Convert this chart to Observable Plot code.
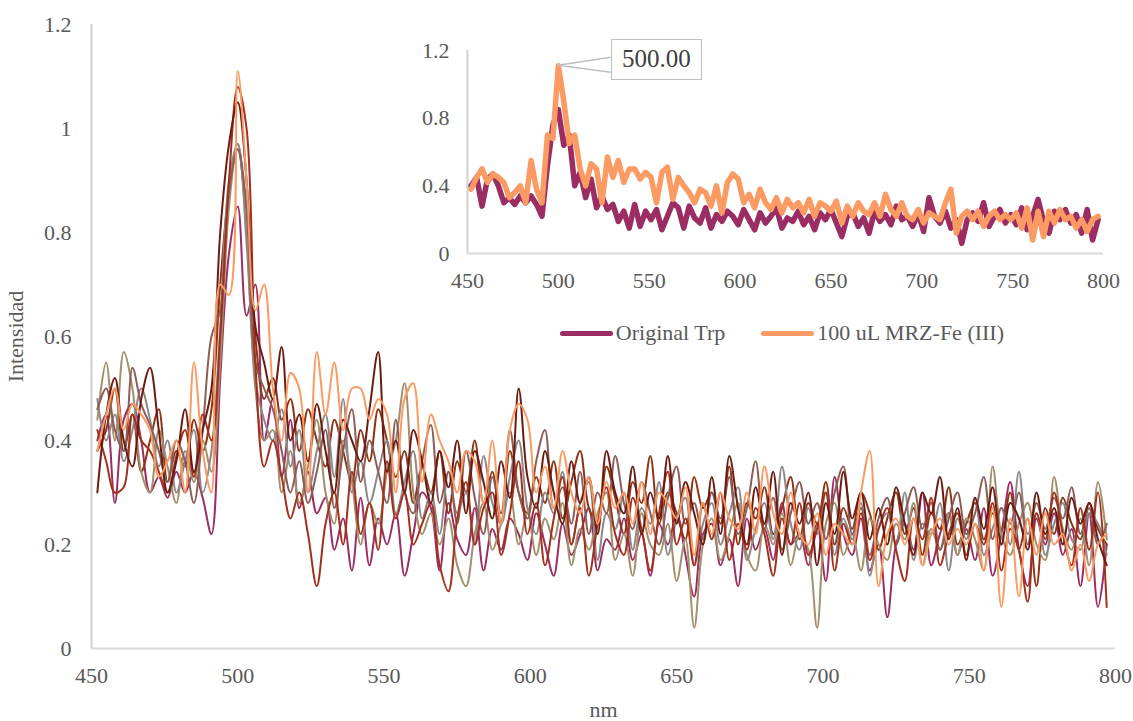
<!DOCTYPE html>
<html>
<head>
<meta charset="utf-8">
<script src="https://cdn.jsdelivr.net/npm/d3@7"></script>
<script src="https://cdn.jsdelivr.net/npm/@observablehq/plot@0.6"></script>
<style>
  html, body { margin: 0; padding: 0; background: #fff; }
  #wrap { position: relative; width: 1133px; height: 721px; overflow: hidden; font-family: "Liberation Serif", serif; color: #595959; }
  #wrap svg { position: absolute; left: 0; top: 0; background: transparent; }
  .leg { position: absolute; display: flex; align-items: center; font-size: 22px; color: #595959; white-space: nowrap; }
  .sw { display: inline-block; width: 53px; height: 5px; border-radius: 3px; margin-right: 3px; }
  #callout { position: absolute; border: 1.5px solid #bfbfbf; background: #fff; font-size: 25px; color: #404040; text-align: center; box-sizing: border-box; }
</style>
</head>
<body>
<div id="wrap"></div>
<script>
// wavelengths (nm)
const wavelengths = [
452,455,458,461,464,467,470,473,476,479,
482,485,488,491,494,497,500,503,506,509,
512,515,518,521,524,527,530,533,536,539,
542,545,548,551,554,557,560,563,566,569,
572,575,578,581,584,587,590,593,596,599,
602,605,608,611,614,617,620,623,626,629,
632,635,638,641,644,647,650,653,656,659,
662,665,668,671,674,677,680,683,686,689,
692,695,698,701,704,707,710,713,716,719,
722,725,728,731,734,737,740,743,746,749,
752,755,758,761,764,767,770,773,776,779,
782,785,788,791,794,797];

// Original Trp
const originalTrp = [
0.40,0.45,0.28,0.44,0.47,0.40,0.30,0.33,0.29,0.34,
0.30,0.34,0.29,0.22,0.52,0.76,0.85,0.64,0.70,0.40,
0.48,0.33,0.44,0.27,0.34,0.26,0.29,0.19,0.25,0.15,
0.29,0.16,0.25,0.20,0.26,0.14,0.22,0.30,0.27,0.15,
0.28,0.21,0.18,0.27,0.15,0.23,0.19,0.25,0.22,0.17,
0.26,0.20,0.14,0.24,0.18,0.22,0.27,0.15,0.21,0.19,
0.25,0.17,0.22,0.14,0.24,0.20,0.26,0.18,0.10,0.22,
0.24,0.16,0.21,0.12,0.25,0.19,0.23,0.17,0.28,0.20,
0.22,0.16,0.24,0.13,0.33,0.22,0.18,0.25,0.15,0.20,
0.06,0.20,0.24,0.19,0.30,0.16,0.22,0.26,0.18,0.23,
0.17,0.27,0.14,0.22,0.32,0.19,0.12,0.25,0.20,0.26,
0.18,0.23,0.12,0.26,0.08,0.20];

// 100 uL MRZ-Fe (III)
const mrz100 = [
0.38,0.45,0.50,0.42,0.47,0.45,0.42,0.33,0.36,0.40,
0.30,0.55,0.38,0.30,0.70,0.68,1.11,0.90,0.65,0.70,
0.50,0.40,0.53,0.50,0.30,0.57,0.45,0.55,0.42,0.50,
0.50,0.44,0.48,0.45,0.30,0.48,0.51,0.32,0.45,0.40,
0.36,0.30,0.38,0.36,0.28,0.40,0.24,0.42,0.47,0.44,
0.30,0.35,0.27,0.38,0.30,0.26,0.33,0.24,0.32,0.27,
0.30,0.24,0.32,0.22,0.30,0.28,0.25,0.31,0.18,0.28,
0.22,0.30,0.25,0.23,0.30,0.22,0.35,0.26,0.22,0.30,
0.22,0.20,0.26,0.18,0.24,0.22,0.20,0.30,0.38,0.12,
0.22,0.25,0.20,0.25,0.16,0.22,0.25,0.20,0.23,0.20,
0.24,0.15,0.27,0.08,0.25,0.10,0.25,0.18,0.26,0.20,
0.22,0.15,0.20,0.13,0.20,0.22];

const seriesDarkMaroon = [
0.30,0.45,0.52,0.40,0.35,0.48,0.54,0.42,0.30,0.36,
0.46,0.34,0.42,0.50,0.80,0.97,1.05,0.90,0.62,0.55,
0.48,0.58,0.40,0.45,0.36,0.47,0.38,0.30,0.44,0.40,
0.36,0.46,0.57,0.34,0.40,0.30,0.42,0.36,0.28,0.38,
0.31,0.40,0.26,0.38,0.32,0.25,0.36,0.29,0.50,0.33,
0.27,0.38,0.30,0.24,0.36,0.28,0.33,0.22,0.38,0.30,
0.26,0.35,0.22,0.30,0.25,0.37,0.24,0.32,0.26,0.20,
0.33,0.22,0.37,0.27,0.20,0.31,0.24,0.34,0.18,0.28,
0.24,0.30,0.16,0.28,0.22,0.34,0.25,0.30,0.21,0.27,
0.20,0.31,0.24,0.18,0.30,0.26,0.33,0.21,0.27,0.17,
0.29,0.23,0.31,0.20,0.28,0.25,0.19,0.30,0.22,0.27,
0.20,0.29,0.24,0.28,0.21,0.16];

const seriesRedBrown = [
0.42,0.36,0.30,0.31,0.45,0.40,0.38,0.34,0.30,0.37,
0.42,0.33,0.45,0.40,0.60,0.90,1.08,1.00,0.55,0.35,
0.40,0.33,0.25,0.30,0.22,0.12,0.24,0.30,0.20,0.34,
0.22,0.28,0.19,0.36,0.25,0.30,0.20,0.24,0.28,0.16,
0.11,0.25,0.32,0.20,0.27,0.30,0.18,0.26,0.36,0.22,
0.28,0.16,0.25,0.33,0.20,0.27,0.14,0.24,0.31,0.22,
0.18,0.29,0.23,0.15,0.26,0.34,0.20,0.25,0.16,0.28,
0.21,0.30,0.17,0.24,0.19,0.27,0.22,0.14,0.25,0.20,
0.28,0.18,0.23,0.30,0.15,0.24,0.20,0.26,0.17,0.23,
0.27,0.19,0.13,0.25,0.21,0.29,0.16,0.22,0.26,0.18,
0.24,0.20,0.28,0.15,0.23,0.19,0.09,0.26,0.21,0.30,
0.22,0.16,0.27,0.19,0.30,0.08];

const seriesRust = [
0.38,0.42,0.50,0.38,0.45,0.34,0.40,0.46,0.32,0.38,
0.35,0.44,0.38,0.46,0.70,0.88,0.96,0.82,0.60,0.48,
0.52,0.44,0.48,0.38,0.46,0.40,0.35,0.44,0.38,0.32,
0.42,0.36,0.46,0.40,0.33,0.38,0.28,0.35,0.30,0.38,
0.26,0.36,0.30,0.40,0.28,0.34,0.24,0.38,0.30,0.26,
0.33,0.28,0.36,0.25,0.32,0.38,0.27,0.24,0.35,0.29,
0.22,0.32,0.28,0.37,0.24,0.30,0.26,0.21,0.33,0.27,
0.30,0.24,0.35,0.20,0.28,0.25,0.31,0.22,0.27,0.33,
0.21,0.28,0.24,0.32,0.20,0.27,0.23,0.30,0.26,0.19,
0.25,0.30,0.22,0.27,0.18,0.26,0.23,0.31,0.20,0.24,
0.28,0.21,0.26,0.23,0.30,0.19,0.25,0.12,0.27,0.22,
0.29,0.24,0.21,0.28,0.23,0.20];

const seriesTan = [
0.44,0.55,0.40,0.57,0.50,0.34,0.30,0.42,0.35,0.28,
0.38,0.32,0.40,0.34,0.55,0.85,0.97,0.80,0.50,0.40,
0.42,0.30,0.38,0.28,0.35,0.44,0.30,0.24,0.40,0.32,
0.20,0.28,0.24,0.34,0.40,0.51,0.30,0.22,0.26,0.20,
0.25,0.16,0.12,0.22,0.28,0.19,0.24,0.30,0.20,0.26,
0.18,0.25,0.21,0.28,0.16,0.23,0.19,0.26,0.30,0.17,
0.22,0.14,0.26,0.20,0.18,0.24,0.13,0.21,0.04,0.20,
0.25,0.17,0.22,0.28,0.18,0.15,0.24,0.20,0.26,0.16,
0.22,0.19,0.04,0.24,0.28,0.18,0.22,0.15,0.25,0.20,
0.17,0.24,0.21,0.28,0.16,0.23,0.19,0.26,0.18,0.25,
0.21,0.15,0.35,0.22,0.18,0.24,0.28,0.20,0.17,0.33,
0.23,0.19,0.25,0.16,0.32,0.21];

const seriesGrey = [
0.48,0.40,0.45,0.36,0.42,0.50,0.44,0.35,0.40,0.30,
0.36,0.42,0.30,0.38,0.62,0.90,0.97,0.78,0.52,0.44,
0.40,0.46,0.35,0.42,0.30,0.38,0.45,0.33,0.48,0.30,
0.36,0.28,0.34,0.40,0.26,0.32,0.38,0.25,0.30,0.22,
0.34,0.26,0.30,0.20,0.37,0.28,0.24,0.33,0.40,0.27,
0.22,0.30,0.26,0.34,0.20,0.28,0.32,0.17,0.26,0.23,
0.30,0.19,0.27,0.24,0.32,0.18,0.25,0.29,0.16,0.24,
0.28,0.20,0.26,0.31,0.17,0.23,0.28,0.21,0.35,0.24,
0.19,0.27,0.22,0.30,0.18,0.25,0.21,0.28,0.14,0.23,
0.26,0.20,0.30,0.17,0.24,0.22,0.28,0.15,0.25,0.21,
0.29,0.18,0.23,0.27,0.20,0.34,0.22,0.26,0.18,0.24,
0.28,0.21,0.19,0.26,0.24,0.18];

const seriesRosy = [
0.46,0.50,0.42,0.38,0.54,0.47,0.43,0.38,0.32,0.40,
0.36,0.28,0.42,0.60,0.65,0.88,0.96,0.85,0.55,0.50,
0.46,0.38,0.30,0.36,0.28,0.34,0.42,0.27,0.38,0.46,
0.32,0.40,0.34,0.28,0.44,0.30,0.26,0.36,0.43,0.28,
0.34,0.24,0.38,0.29,0.22,0.33,0.26,0.42,0.30,0.25,
0.36,0.42,0.27,0.31,0.24,0.34,0.22,0.30,0.26,0.37,
0.28,0.23,0.32,0.26,0.20,0.29,0.35,0.24,0.28,0.21,
0.30,0.25,0.33,0.22,0.27,0.36,0.23,0.29,0.19,0.26,
0.32,0.24,0.28,0.21,0.30,0.35,0.22,0.27,0.18,0.25,
0.29,0.20,0.26,0.31,0.23,0.28,0.19,0.25,0.30,0.22,
0.26,0.33,0.21,0.27,0.24,0.30,0.20,0.28,0.23,0.29,
0.25,0.31,0.22,0.27,0.20,0.24];

const seriesNames = ["Original Trp","Rust","Tan","Grey","Rosy","RedBrown","DarkMaroon","100 uL MRZ-Fe (III)"];
const seriesValues = [originalTrp, seriesRust, seriesTan, seriesGrey, seriesRosy, seriesRedBrown, seriesDarkMaroon, mrz100];
const seriesColors = ["#9b2d62","#8c3414","#a38f6c","#8f8787","#8e5c57","#a3301d","#6b1b12","#fb9a62"];

const insetNames = ["Original Trp","100 uL MRZ-Fe (III)"];

const xTicks = [450,500,550,600,650,700,750,800];
const yTicks = [0,0.2,0.4,0.6,0.8,1,1.2];
const insetYTicks = [0,0.4,0.8,1.2];
const calloutWavelength = 500;
const calloutLabel = "500.00";

const rows = [];
seriesNames.forEach((s, k) => {
  seriesValues[k].forEach((v, i) => rows.push({s, nm: wavelengths[i], v}));
});
const insetRows = rows.filter(r => insetNames.includes(r.s));

const fmt = d => String(+d.toFixed(1));
const font = {fontFamily: "'Liberation Serif', serif", fontSize: "22px", color: "#595959", background: "transparent", overflow: "visible"};

const main = Plot.plot({
  width: 1133, height: 721,
  marginLeft: 91, marginRight: 18, marginTop: 24, marginBottom: 73,
  style: font,
  color: {domain: seriesNames, range: seriesColors},
  x: {domain: [450, 800]},
  y: {domain: [0, 1.2]},
  marks: [
    Plot.axisX({ticks: xTicks, tickSize: 0, tickPadding: 19, label: "nm", labelAnchor: "center", labelArrow: "none", labelOffset: 68, fill: "#595959"}),
    Plot.axisY({ticks: yTicks, tickSize: 0, tickPadding: 20, tickFormat: fmt, label: "Intensidad", labelAnchor: "center", labelArrow: "none", labelOffset: 84, fill: "#595959"}),
    Plot.ruleX([450], {stroke: "#d0d0d0", strokeWidth: 2}),
    Plot.ruleY([0], {stroke: "#d9d9d9", strokeWidth: 2}),
    Plot.line(rows, {x: "nm", y: "v", z: "s", stroke: "s", strokeWidth: 2, curve: "catmull-rom", strokeLinejoin: "round"})
  ]
});

const inset = Plot.plot({
  width: 1133, height: 721,
  marginLeft: 467, marginRight: 30, marginTop: 50, marginBottom: 468,
  style: font,
  color: {domain: seriesNames, range: seriesColors},
  x: {domain: [450, 800]},
  y: {domain: [0, 1.2]},
  marks: [
    Plot.axisX({ticks: xTicks, tickSize: 0, tickPadding: 19, label: null, fill: "#595959"}),
    Plot.axisY({ticks: insetYTicks, tickSize: 0, tickPadding: 18, tickFormat: fmt, label: null, fill: "#595959"}),
    Plot.ruleX([450], {stroke: "#d0d0d0", strokeWidth: 2}),
    Plot.ruleY([0], {stroke: "#d9d9d9", strokeWidth: 2}),
    Plot.line(insetRows, {x: "nm", y: "v", z: "s", stroke: "s", strokeWidth: 5.5, curve: "linear", strokeLinejoin: "round", strokeLinecap: "round"})
  ]
});

const wrap = document.getElementById("wrap");
wrap.appendChild(main);
wrap.appendChild(inset);

// callout anchored to the orange peak through the inset's scales
const peakIdx = wavelengths.indexOf(calloutWavelength);
const px = inset.scale("x").apply(calloutWavelength);
const py = inset.scale("y").apply(mrz100[peakIdx]);
const boxL = px + 53, boxT = py - 26, boxW = 91, boxH = 41;
const ns = "http://www.w3.org/2000/svg";
const g = document.createElementNS(ns, "g");
[[boxL, py - 8], [boxL, py + 7]].forEach(([x2, y2]) => {
  const l = document.createElementNS(ns, "line");
  l.setAttribute("x1", px); l.setAttribute("y1", py);
  l.setAttribute("x2", x2); l.setAttribute("y2", y2);
  l.setAttribute("stroke", "#bfbfbf"); l.setAttribute("stroke-width", "1.5");
  g.appendChild(l);
});
inset.appendChild(g);
const box = document.createElement("div");
box.id = "callout";
box.style.left = boxL + "px"; box.style.top = boxT + "px";
box.style.width = boxW + "px"; box.style.height = boxH + "px";
box.style.lineHeight = (boxH - 3) + "px";
box.textContent = calloutLabel;
wrap.appendChild(box);

// legend
const legend = document.createElement("div");
legend.className = "leg";
legend.style.left = (px + 2) + "px";
legend.style.top = "320px";
insetNames.forEach((n, k) => {
  const item = document.createElement("span");
  item.style.display = "inline-flex"; item.style.alignItems = "center";
  item.style.marginRight = k === 0 ? "36px" : "0";
  const sw = document.createElement("span");
  sw.className = "sw";
  sw.style.background = seriesColors[seriesNames.indexOf(n)];
  item.appendChild(sw);
  item.appendChild(document.createTextNode(n));
  legend.appendChild(item);
});
wrap.appendChild(legend);
</script>
</body>
</html>
